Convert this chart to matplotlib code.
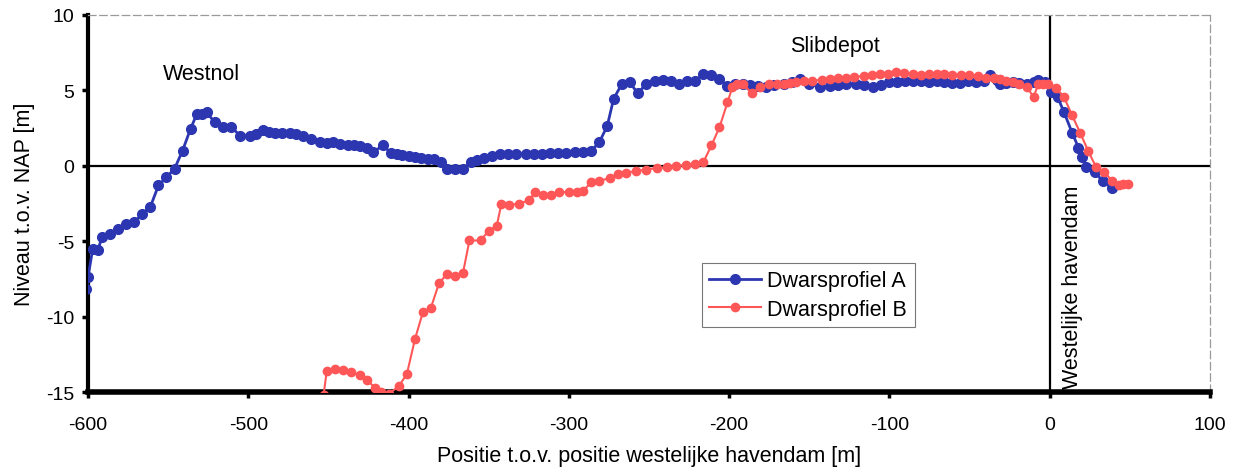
import matplotlib.pyplot as plt

# Dwarsprofiel A (blauw)
xa = [-601, -600, -597, -594, -591, -586, -581, -576, -571, -566, -561, -556, -551, -546,
      -541, -536, -532, -529, -526, -521, -516, -511, -505, -499, -495, -491, -487, -483,
      -479, -474, -470, -466, -461, -455, -451, -447, -443, -438, -434, -430, -426, -422,
      -416, -411, -407, -404, -400, -396, -392, -388, -384, -380, -376, -371, -366, -361,
      -357, -353, -348, -343, -338, -333, -327, -322, -317, -312, -307, -302, -296, -291,
      -286, -281, -276, -272, -267, -262, -257, -252, -246, -241, -236, -231, -226, -221,
      -216, -211, -206, -201, -196, -191, -187, -182, -177, -172, -166, -161, -156, -150,
      -143, -137, -132, -127, -121, -116, -110, -105, -100, -95, -90, -85, -80, -75,
      -70, -66, -61, -56, -51, -46, -41, -37, -33, -31, -27, -23, -19, -14, -10, -7,
      -3, 1, 5, 9, 14, 18, 20, 23, 28, 33, 39]
ya = [-8.2, -7.4, -5.5, -5.6, -4.7, -4.5, -4.2, -3.85, -3.7, -3.2, -2.7, -1.3, -0.75, -0.2,
      1.0, 2.45, 3.45, 3.45, 3.55, 2.9, 2.6, 2.6, 2.0, 2.0, 2.1, 2.35, 2.25, 2.2,
      2.2, 2.2, 2.1, 2.0, 1.8, 1.55, 1.5, 1.55, 1.45, 1.4, 1.4, 1.3, 1.15, 0.9,
      1.35, 0.85, 0.8, 0.7, 0.65, 0.6, 0.5, 0.45, 0.45, 0.25, -0.2, -0.2, -0.2, 0.25,
      0.4, 0.55, 0.65, 0.8, 0.75, 0.8, 0.8, 0.8, 0.8, 0.85, 0.85, 0.85, 0.9, 0.9,
      1.0, 1.55, 2.65, 4.45, 5.4, 5.55, 4.8, 5.4, 5.6, 5.7, 5.6, 5.4, 5.65, 5.65,
      6.1, 6.0, 5.75, 5.3, 5.45, 5.4, 5.35, 5.3, 5.25, 5.35, 5.45, 5.55, 5.75, 5.45,
      5.2, 5.3, 5.35, 5.45, 5.4, 5.35, 5.2, 5.35, 5.55, 5.55, 5.6, 5.65, 5.6, 5.55,
      5.6, 5.55, 5.5, 5.5, 5.6, 5.55, 5.6, 6.0, 5.7, 5.45, 5.5, 5.55, 5.5, 5.45, 5.55, 5.7,
      5.55, 4.9, 4.55, 3.55, 2.2, 1.2, 0.6, -0.1, -0.4, -1.0, -1.5]

# Dwarsprofiel B (rood)
xb = [-453, -451, -446, -441, -436, -430, -426, -421, -417, -412, -406, -401, -396, -391,
      -386, -381, -376, -371, -366, -362, -355, -350, -345, -342, -337, -331, -325, -321,
      -316, -311, -306, -300, -295, -291, -286, -281, -274, -269, -264, -258, -252, -245,
      -239, -233, -227, -221, -216, -211, -206, -201, -198, -195, -191, -186, -181, -175,
      -170, -166, -162, -158, -153, -148, -142, -137, -132, -127, -122, -116, -111, -106,
      -101, -96, -91, -85, -80, -75, -70, -66, -61, -55, -50, -45, -40, -35, -31, -27,
      -23, -19, -14, -10, -7, -4, -1, 4, 9, 14, 19, 24, 29, 34, 39, 43, 46, 49]
yb = [-15.2, -13.6, -13.5, -13.55, -13.65, -13.9, -14.2, -14.7, -15.0, -15.1, -14.6, -13.8, -11.5, -9.7,
      -9.4, -7.8, -7.15, -7.3, -7.1, -4.95, -4.95, -4.3, -4.0, -2.5, -2.6, -2.5, -2.3, -1.75,
      -1.95, -1.95, -1.75, -1.75, -1.75, -1.65, -1.1, -1.0, -0.8, -0.55, -0.45, -0.35, -0.25, -0.15,
      -0.1, 0.0, 0.05, 0.1, 0.25, 1.35, 2.55, 4.2, 5.2, 5.4, 5.45, 4.8, 5.2, 5.4,
      5.45, 5.45, 5.5, 5.55, 5.6, 5.65, 5.7, 5.75, 5.8, 5.85, 5.9, 5.95, 6.0, 6.1,
      6.1, 6.2, 6.15, 6.1, 6.05, 6.1, 6.1, 6.1, 6.05, 6.0, 6.0, 5.95, 5.85, 5.8, 5.75, 5.65,
      5.55, 5.4, 5.2, 4.55, 5.45, 5.45, 5.4, 5.15, 4.55, 3.35, 2.2, 1.0, -0.1, -0.4, -1.0, -1.3, -1.2, -1.2]

xticks = [-600, -500, -400, -300, -200, -100, 0, 100]
yticks = [10, 5, 0, -5, -10, -15]

plt.rcParams['font.family'] = ['Liberation Sans', 'DejaVu Sans']
plt.rcParams['axes.unicode_minus'] = False
blue = '#2b36b0'
red = '#ff5757'
fs = 15.5

fig = plt.figure(figsize=(12.37, 4.77), dpi=100)
ax = fig.add_axes([0.0711, 0.176, 0.907, 0.7905])

ax.axhline(0, color='black', lw=1.6, zorder=1)
ax.axvline(0, color='black', lw=1.6, zorder=1)

ax.plot(xa, ya, '-o', color=blue, lw=2, ms=7, label='Dwarsprofiel A', zorder=3)
ax.plot(xb, yb, '-o', color=red, lw=1.5, ms=6, label='Dwarsprofiel B', zorder=4)

ax.set_xlim(-600, 100)
ax.set_ylim(-15, 10)
ax.set_xticks(xticks)
ax.set_yticks(yticks)
ax.tick_params(axis='both', labelsize=14, direction='out', width=2.5, length=4)
ax.tick_params(axis='x', pad=13)
ax.tick_params(axis='y', pad=6)

for s in ['top', 'right']:
    ax.spines[s].set_linestyle((0, (6, 3)))
    ax.spines[s].set_color('#9a9a9a')
    ax.spines[s].set_linewidth(0.9)
ax.spines['left'].set_linewidth(3)
ax.spines['bottom'].set_linewidth(4)

ax.set_xlabel('Positie t.o.v. positie westelijke havendam [m]', fontsize=fs, labelpad=9)
ax.set_ylabel('Niveau t.o.v. NAP [m]', fontsize=fs, labelpad=8)

ax.text(-529, 6.1, 'Westnol', fontsize=fs, ha='center', va='center')
ax.text(-134, 8.0, 'Slibdepot', fontsize=fs, ha='center', va='center')
ax.text(14, -8.0, 'Westelijke havendam', fontsize=fs, rotation=90, ha='center', va='center')

leg = ax.legend(loc='center', bbox_to_anchor=(0.642, 0.257), fontsize=fs, frameon=True,
                fancybox=False, edgecolor='#555555', handlelength=2.4, handletextpad=0.3,
                borderpad=0.35, labelspacing=0.35, borderaxespad=0)
leg.get_frame().set_linewidth(0.8)

fig.savefig('out.png', dpi=100)
